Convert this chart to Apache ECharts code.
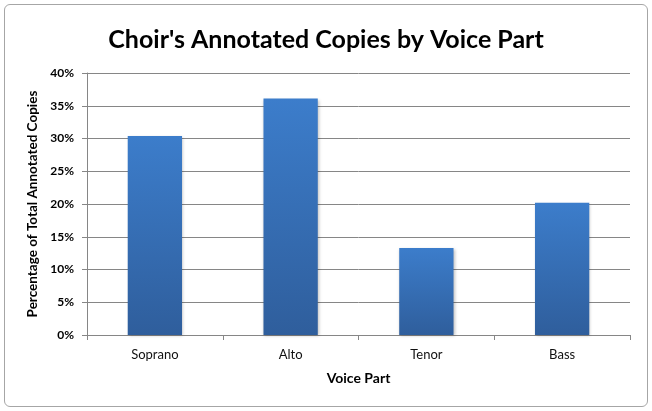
<!DOCTYPE html>
<html><head><meta charset="utf-8">
<script src="https://cdn.jsdelivr.net/npm/echarts@6/dist/echarts.min.js"></script>
<style>html,body{margin:0;padding:0;background:#fff}#c{width:652px;height:411px}
#frame{position:absolute;left:4px;top:4px;width:642px;height:401px;border:1px solid #a6a6a6;border-radius:6px;pointer-events:none}</style>
</head><body><div id="c"></div><div id="frame"></div>
<script>
const categories = ['Soprano', 'Alto', 'Tenor', 'Bass'];
const values = [30.4, 36.1, 13.3, 20.2];
const yTicks = [0, 5, 10, 15, 20, 25, 30, 35, 40];
const titleText = "Choir's Annotated Copies by Voice Part";
const xName = 'Voice Part';
const yName = 'Percentage of Total Annotated Copies';

const font = 'Lato, "Open Sans", sans-serif';
const chart = echarts.init(document.getElementById('c'));
chart.setOption({
  animation: false,
  title: {text: titleText, left: 'center', top: 22,
    textStyle: {fontFamily: font, fontSize: 25, fontWeight: 'bold', color: '#000'}},
  grid: {left: 87, right: 22, top: 73, bottom: 76},
  xAxis: {type: 'category', data: categories, name: xName, nameLocation: 'middle', nameGap: 36,
    nameTextStyle: {fontFamily: font, fontSize: 14, fontWeight: 'bold', color: '#000'},
    axisLine: {lineStyle: {color: '#868686'}},
    axisTick: {show: true, length: 5, lineStyle: {color: '#868686'}},
    axisLabel: {fontFamily: font, fontSize: 13, color: '#111', margin: 13}},
  yAxis: {type: 'value', min: yTicks[0], max: yTicks[yTicks.length - 1], interval: 5,
    name: yName, nameLocation: 'middle', nameGap: 45,
    nameTextStyle: {fontFamily: font, fontSize: 13.5, fontWeight: 'bold', color: '#000'},
    axisLine: {show: true, lineStyle: {color: '#868686'}},
    axisTick: {show: true, length: 5, lineStyle: {color: '#868686'}},
    axisLabel: {fontFamily: font, fontSize: 12, fontWeight: 'bold', color: '#000', margin: 13,
      formatter: v => v + '%'},
    splitLine: {lineStyle: {color: '#868686'}}},
  series: [{type: 'bar', data: values, barWidth: '40%',
    itemStyle: {color: new echarts.graphic.LinearGradient(0, 0, 0, 1, [
      {offset: 0, color: '#3C7DCB'}, {offset: 1, color: '#2F5E9C'}]),
      shadowColor: 'rgba(0,0,0,0.25)', shadowBlur: 3, shadowOffsetX: 1, shadowOffsetY: 1}}]
});
</script></body></html>
